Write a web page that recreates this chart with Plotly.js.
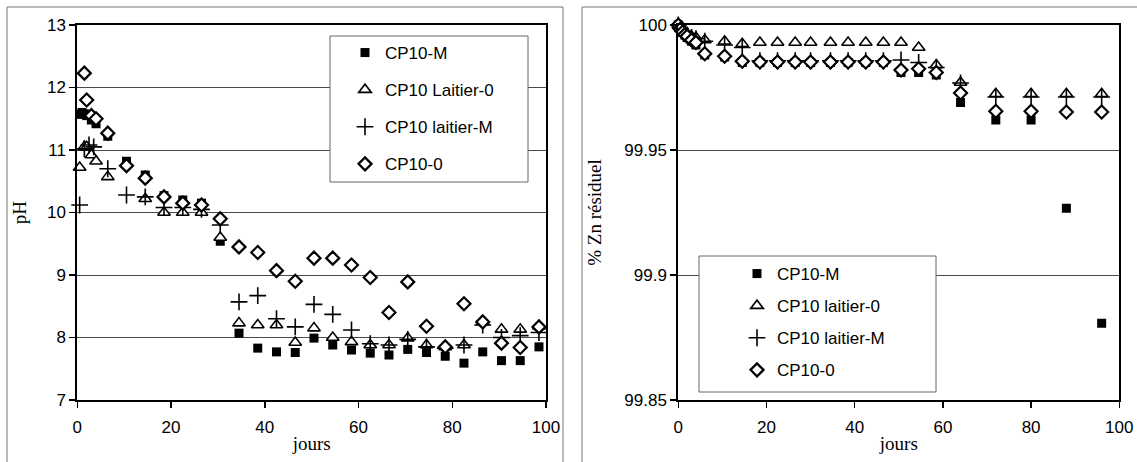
<!DOCTYPE html>
<html>
<head>
<meta charset="utf-8">
<script src="https://cdn.plot.ly/plotly-3.0.1.min.js"></script>
<style>
  html, body { margin: 0; padding: 0; background: #fff; }
  #chart { width: 1137px; height: 462px; }
</style>
</head>
<body>
<div id="chart"></div>
<script>
// ---- pH over time (left panel) ----
const phDaysM   = [0.5, 1, 1.5, 2, 3, 4, 6.5, 10.5, 14.5, 18.5, 22.5, 26.5, 30.5, 34.5, 38.5, 42.5, 46.5, 50.5, 54.5, 58.5, 62.5, 66.5, 70.5, 74.5, 78.5, 82.5, 86.5, 90.5, 94.5, 98.5];
const phM       = [11.57, 11.6, 11.58, 11.55, 11.48, 11.42, 11.22, 10.82, 10.6, 10.27, 10.2, 10.15, 9.54, 8.07, 7.83, 7.77, 7.76, 7.99, 7.88, 7.8, 7.75, 7.72, 7.81, 7.76, 7.7, 7.59, 7.77, 7.63, 7.63, 7.85];

const phDaysL0  = [0.5, 1.5, 2, 3, 4, 6.5, 14.5, 18.5, 22.5, 26.5, 30.5, 34.5, 38.5, 42.5, 46.5, 50.5, 54.5, 58.5, 62.5, 66.5, 70.5, 74.5, 78.5, 82.5, 86.5, 90.5, 94.5, 98.5];
const phL0      = [10.72, 11.05, 11.05, 10.92, 10.82, 10.57, 10.22, 10.0, 10.0, 10.0, 9.6, 8.23, 8.2, 8.2, 7.92, 8.15, 8.0, 7.93, 7.88, 7.88, 7.99, 7.88, 7.85, 7.88, 8.25, 8.13, 8.13, 8.18];

const phDaysLM  = [0.5, 1.5, 2.5, 3.5, 6.5, 10.5, 14.5, 18.5, 22.5, 26.5, 30.5, 34.5, 38.5, 42.5, 46.5, 50.5, 54.5, 58.5, 62.5, 66.5, 70.5, 74.5, 78.5, 82.5, 86.5, 90.5, 94.5, 98.5];
const phLM      = [10.12, 11.02, 11.08, 11.05, 10.7, 10.28, 10.25, 10.08, 10.08, 10.05, 9.8, 8.57, 8.67, 8.3, 8.17, 8.53, 8.37, 8.12, 7.9, 7.88, 7.97, 7.85, 7.83, 7.88, 8.2, 8.0, 8.03, 8.08];

const phDays0   = [1.5, 2, 3, 4, 6.5, 10.5, 14.5, 18.5, 22.5, 26.5, 30.5, 34.5, 38.5, 42.5, 46.5, 50.5, 54.5, 58.5, 62.5, 66.5, 70.5, 74.5, 78.5, 82.5, 86.5, 90.5, 94.5, 98.5];
const ph0       = [12.23, 11.8, 11.55, 11.5, 11.27, 10.75, 10.55, 10.25, 10.15, 10.12, 9.9, 9.45, 9.36, 9.07, 8.9, 9.27, 9.27, 9.16, 8.96, 8.4, 8.89, 8.18, 7.85, 8.54, 8.25, 7.91, 7.84, 8.17];

// ---- residual zinc over time (right panel) ----
const znDays    = [0, 0.5, 1, 1.5, 2, 3, 4, 6, 10.5, 14.5, 18.5, 22.5, 26.5, 30, 34.5, 38.5, 42.5, 46.5, 50.5, 54.5, 58.5, 64, 72, 80, 88, 96];
const znM       = [100, 99.9985, 99.997, 99.996, 99.995, 99.9935, 99.992, 99.988, 99.9872, 99.985, 99.985, 99.985, 99.985, 99.985, 99.985, 99.985, 99.985, 99.985, 99.981, 99.981, 99.98, 99.969, 99.962, 99.962, 99.9267, 99.8807];
const znL0      = [100, 99.9988, 99.998, 99.9972, 99.9965, 99.9955, 99.995, 99.994, 99.9935, 99.9925, 99.993, 99.993, 99.993, 99.993, 99.993, 99.993, 99.993, 99.993, 99.993, 99.991, 99.984, 99.977, 99.9725, 99.9725, 99.9725, 99.9725];
const znLM      = [100, 99.9986, 99.9975, 99.9966, 99.996, 99.995, 99.9945, 99.9935, 99.992, 99.991, 99.9857, 99.9857, 99.9857, 99.9857, 99.9857, 99.9857, 99.9857, 99.9857, 99.986, 99.985, 99.983, 99.9768, 99.9712, 99.9712, 99.9712, 99.9712];
const zn0       = [100, 99.9984, 99.9972, 99.9962, 99.9955, 99.994, 99.993, 99.9885, 99.9875, 99.9855, 99.9852, 99.9852, 99.9852, 99.9852, 99.9852, 99.9852, 99.9852, 99.9852, 99.982, 99.9825, 99.981, 99.9728, 99.9655, 99.9655, 99.9652, 99.9652];

const namesLeft  = ['CP10-M', 'CP10 Laitier-0', 'CP10 laitier-M', 'CP10-0'];
const namesRight = ['CP10-M', 'CP10 laitier-0', 'CP10 laitier-M', 'CP10-0'];
const xTicks = [0, 20, 40, 60, 80, 100];
const phTicks = [7, 8, 9, 10, 11, 12, 13];
const znTicks = [99.85, 99.9, 99.95, 100];
const znTickText = ['99.85', '99.9', '99.95', '100'];

// marker styles, in drawing order: squares, triangles, crosses, diamonds
const styles = [
  { symbol: 'square', size: 9, color: '#000', line: { color: '#000', width: 0 } },
  { symbol: 'triangle-up', size: 11, color: '#fff', line: { color: '#000', width: 1.6 } },
  { symbol: 'cross-thin', size: 12, color: '#000', line: { color: '#000', width: 1.6 } },
  { symbol: 'diamond', size: 10, color: '#fff', line: { color: '#000', width: 2.2 } }
];

const W = 1137, H = 462;
const px = v => v / W;
const py = v => 1 - v / H;

const leftSeries  = [[phDaysM, phM], [phDaysL0, phL0], [phDaysLM, phLM], [phDays0, ph0]];
const rightSeries = [[znDays, znM], [znDays, znL0], [znDays, znLM], [znDays, zn0]];

const traces = [];
leftSeries.forEach((s, i) => {
  traces.push({
    type: 'scatter', mode: 'markers', x: s[0], y: s[1], name: namesLeft[i],
    xaxis: 'x', yaxis: 'y', marker: styles[i], cliponaxis: false,
    legend: 'legend', legendgroup: 'l' + i
  });
});
rightSeries.forEach((s, i) => {
  traces.push({
    type: 'scatter', mode: 'markers', x: s[0], y: s[1], name: namesRight[i],
    xaxis: 'x2', yaxis: 'y2', marker: styles[i], cliponaxis: false,
    legend: 'legend2', legendgroup: 'r' + i
  });
});

const sans = { family: 'Liberation Sans, Arial, sans-serif', size: 17, color: '#000' };
const serif = { family: 'Liberation Serif, Times New Roman, serif', size: 19, color: '#000' };

const xBase = {
  range: [0, 100], tickvals: xTicks, ticks: 'outside', ticklen: 6, tickwidth: 1.5, tickcolor: '#000',
  showline: true, linewidth: 2, linecolor: '#000', mirror: true, showgrid: false, zeroline: false,
  tickfont: sans, ticklabelstandoff: 5, automargin: false, fixedrange: true
};
const yBase = {
  ticks: 'outside', ticklen: 6, tickwidth: 1.5, tickcolor: '#000',
  showline: true, linewidth: 2, linecolor: '#000', mirror: true, showgrid: true,
  gridcolor: '#4a4a4a', gridwidth: 1, zeroline: false, tickfont: sans, automargin: false, fixedrange: true
};

const layout = {
  width: W, height: H,
  margin: { l: 0, r: 0, t: 0, b: 0 },
  paper_bgcolor: '#fff', plot_bgcolor: '#fff',
  xaxis: Object.assign({}, xBase, { domain: [px(77.3), px(546)], anchor: 'y',
    title: { text: 'jours', font: serif, standoff: 0 } }),
  yaxis: Object.assign({}, yBase, { domain: [py(400), py(25)], anchor: 'x', range: [7, 13], tickvals: phTicks,
    title: { text: 'pH', font: serif, standoff: 15 } }),
  xaxis2: Object.assign({}, xBase, { domain: [px(678.3), px(1119.3)], anchor: 'y2',
    title: { text: 'jours', font: serif, standoff: 0 } }),
  yaxis2: Object.assign({}, yBase, { domain: [py(400), py(25)], anchor: 'x2', range: [99.85, 100],
    tickvals: znTicks, ticktext: znTickText,
    title: { text: '% Zn résiduel', font: serif, standoff: 18 } }),
  legend: {
    x: px(345), y: py(35), xanchor: 'left', yanchor: 'top',
    bgcolor: 'rgba(0,0,0,0)', borderwidth: 0, font: sans,
    traceorder: 'grouped', tracegroupgap: 12
  },
  legend2: {
    x: px(737), y: py(256), xanchor: 'left', yanchor: 'top',
    bgcolor: 'rgba(0,0,0,0)', borderwidth: 0, font: sans,
    traceorder: 'grouped', tracegroupgap: 7
  },
  shapes: [
    // frames around each panel
    { type: 'rect', xref: 'paper', yref: 'paper', x0: px(7), x1: px(563), y0: -0.05, y1: py(7),
      line: { color: '#777', width: 1 }, fillcolor: 'rgba(0,0,0,0)', layer: 'below' },
    { type: 'rect', xref: 'paper', yref: 'paper', x0: px(582), x1: 1.05, y0: -0.05, y1: py(7),
      line: { color: '#777', width: 1 }, fillcolor: 'rgba(0,0,0,0)', layer: 'below' },
    // legend boxes
    { type: 'rect', xref: 'paper', yref: 'paper', x0: px(330), x1: px(528), y0: py(182), y1: py(36),
      line: { color: '#666', width: 1 }, fillcolor: '#fff', layer: 'above' },
    { type: 'rect', xref: 'paper', yref: 'paper', x0: px(699), x1: px(936), y0: py(392), y1: py(256),
      line: { color: '#666', width: 1 }, fillcolor: '#fff', layer: 'above' }
  ]
};

Plotly.newPlot('chart', traces, layout, { staticPlot: true, displayModeBar: false });
</script>
</body>
</html>
